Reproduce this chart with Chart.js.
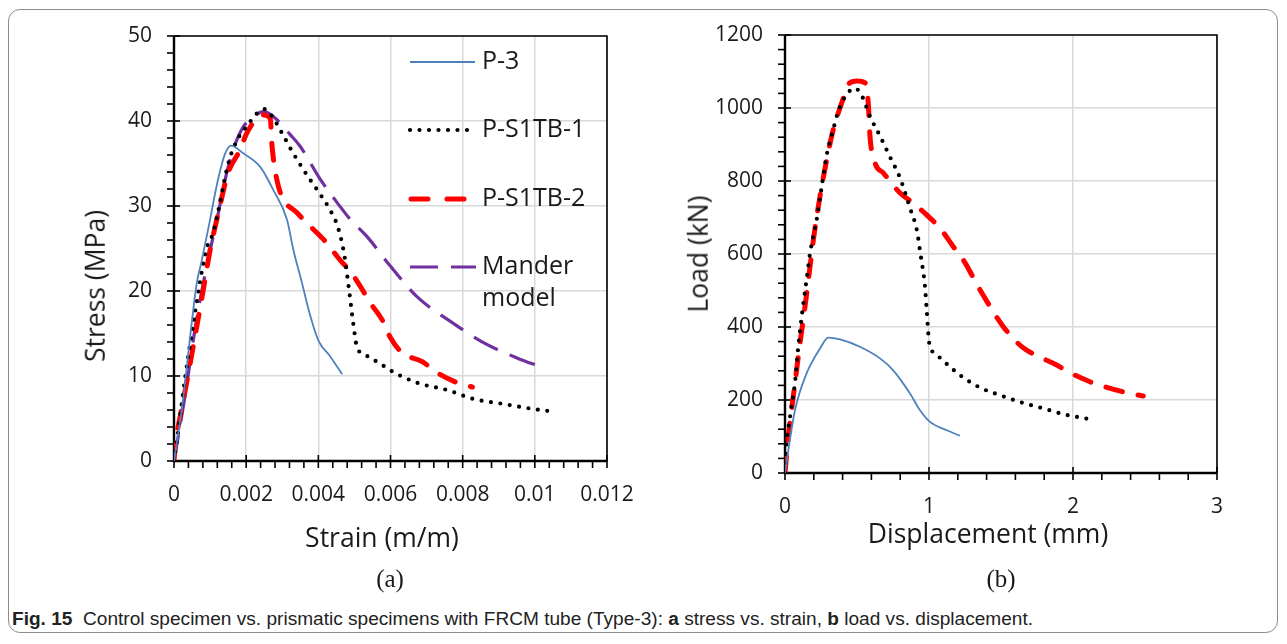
<!DOCTYPE html>
<html>
<head>
<meta charset="utf-8">
<script src="https://cdn.jsdelivr.net/npm/chart.js@4.4.1/dist/chart.umd.min.js"></script>
<style>
  html,body{margin:0;padding:0;background:#fff;}
  #wrap{position:relative;width:1287px;height:644px;overflow:hidden;font-family:'Open Sans','Noto Sans',sans-serif;color:#1a1a1a;}
  #frameBox{position:absolute;left:8px;top:9px;width:1270px;height:624px;border:1px solid #8c8c8c;border-radius:12px;box-sizing:border-box;}
  canvas{position:absolute;}
  .t{position:absolute;white-space:nowrap;transform:translate(-50%,-50%);font-size:26.5px;line-height:1;}
  .rot{transform:translate(-50%,-50%) rotate(-90deg);}
  .sub{position:absolute;white-space:nowrap;transform:translate(-50%,-50%);font-family:'Liberation Serif','DejaVu Serif',serif;font-size:25px;line-height:1;}
  #cap{position:absolute;left:12px;top:620px;white-space:nowrap;transform-origin:0 50%;font-family:'Liberation Sans Narrow','Liberation Sans','Noto Sans',sans-serif;font-size:17.5px;line-height:1;color:#222;}
</style>
</head>
<body>
<div id="wrap">
  <div id="frameBox"></div>
  <canvas id="cA" width="700" height="560" style="left:0;top:0;width:700px;height:560px"></canvas>
  <canvas id="cB" width="647" height="560" style="left:640px;top:0;width:647px;height:560px"></canvas>
  <div class="t rot" style="left:95px;top:286px">Stress (MPa)</div>
  <div class="t" style="left:382px;top:537px">Strain (m/m)</div>
  <div class="t rot" style="left:698px;top:254px">Load (kN)</div>
  <div class="t" style="left:988px;top:533px">Displacement (mm)</div>
  <div class="sub" style="left:390px;top:578px">(a)</div>
  <div class="sub" style="left:1001px;top:578px">(b)</div>
  <div id="cap"><b>Fig. 15</b>&nbsp; Control specimen vs. prismatic specimens with FRCM tube (Type-3): <b>a</b> stress vs. strain, <b>b</b> load vs. displacement.</div>
</div>
<script>
// ---------------- DATA ----------------
const seriesNames = ['P-3', 'P-S1TB-1', 'P-S1TB-2', 'Mander model'];

// (a) stress (MPa) vs strain (m/m)
const strainP3 = [0,0.00025,0.00049,0.00063,0.00077,0.001,0.00114,0.00128,0.00142,0.00158,0.00192,0.00239,0.00275,0.00313,0.00331,0.00355,0.00373,0.0040,0.00433,0.00466];
const stressP3 = [0,7.2,16.2,20.9,23.6,28.4,31.5,34.2,36.2,37.1,36.2,34.6,31.9,28.4,24.8,20.9,17.8,14.2,12.3,10.2];

const strainT1 = [0,0.00006,0.0003,0.00058,0.00089,0.00108,0.00125,0.00142,0.00156,0.00177,0.00202,0.0023,0.0025,0.00271,0.00299,0.00325,0.00369,0.004,0.00433,0.00455,0.00473,0.00484,0.00498,0.00507,0.00526,0.00577,0.00598,0.00674,0.00757,0.0083,0.00914,0.00998,0.01053];
const stressT1 = [0,1.7,9.5,17.4,24.8,26.8,29.9,33.5,35.8,37.9,39.4,40.9,41.4,40.6,38.6,36.6,33.6,31.7,29.5,27.4,24.0,20.5,15.8,13.4,12.6,11.3,10.7,9.2,8.35,7.3,6.7,6.1,5.8];

const strainT2 = [0,0.00002,0.00017,0.00035,0.00058,0.00081,0.001,0.00123,0.0015,0.00183,0.00202,0.00234,0.00248,0.00267,0.00271,0.00276,0.00285,0.00299,0.00341,0.00373,0.0042,0.00461,0.00489,0.00517,0.00544,0.00577,0.006,0.00633,0.00688,0.00725,0.0078,0.00827];
const stressT2 = [0,1.3,5.2,9.2,14.6,20.1,24.8,29.2,33.9,36.6,38.6,40.5,40.7,40.3,37.4,35.4,33.1,31.1,29.2,27.8,25.8,23.6,22.3,20.5,18.6,16.6,14.5,12.7,11.7,10.5,9.3,8.7];

const strainMd = [0,0.0003,0.0006,0.0009,0.00119,0.00146,0.00169,0.00192,0.0022,0.00248,0.00276,0.00322,0.0035,0.00406,0.00452,0.00489,0.00535,0.006,0.00674,0.00767,0.00859,0.00952,0.01017];
const stressMd = [0,7.5,16.0,22.8,28.4,33.9,37.2,39.3,40.5,41.1,40.5,38.4,37.0,33.1,30.4,28.4,26.4,22.9,19.3,16.4,13.9,12.1,11.06];

// (b) load (kN) vs displacement (mm)
const dispP3 = [0,0.023,0.069,0.15,0.243,0.30,0.382,0.52,0.66,0.75,0.868,0.9375,1.007,1.123,1.215];
const loadP3 = [0,62,172,273,341,371,366,346,314,282,218,172,140,117,102];

const dispT1 = [0,0.007,0.035,0.069,0.09,0.116,0.162,0.174,0.22,0.255,0.29,0.335,0.37,0.428,0.486,0.533,0.59,0.66,0.729,0.799,0.868,0.915,0.94,0.972,0.984,1.002,1.042,1.157,1.215,1.354,1.493,1.644,1.794,1.944,2.095];
const loadT1 = [0,62,154,246,337,428,566,602,694,785,872,941,991,1037,1054,1034,977,923,866,808,726,666,602,511,447,355,328,287,268,234,213,193,177,160,149];

const dispT2 = [0,0.023,0.069,0.104,0.139,0.174,0.197,0.243,0.29,0.335,0.394,0.44,0.498,0.556,0.578,0.59,0.625,0.683,0.799,0.89,0.995,1.076,1.169,1.238,1.354,1.516,1.644,1.725,1.887,1.968,2.118,2.222,2.373,2.488];
const loadT2 = [0,99,245,355,456,566,639,758,859,941,1014,1065,1074,1069,1014,923,850,822,767,740,703,671,620,584,502,401,346,326,296,277,250,236,220,211];

// tick labels
const strainTicks = ['0','0.002','0.004','0.006','0.008','0.01','0.012'];
const stressTicks = ['0','10','20','30','40','50'];
const dispTicks = ['0','1','2','3'];
const loadTicks = ['0','200','400','600','800','1000','1200'];

// ---------------- STYLES ----------------
const FONT = "'Open Sans','Noto Sans',sans-serif";
Chart.defaults.font.family = FONT;
Chart.defaults.color = '#1a1a1a';

const styles = [
  {borderColor:'#4f81bd', borderWidth:1.8, borderDash:[], borderCapStyle:'butt'},
  {borderColor:'#000000', borderWidth:4.2, borderDash:[0,9.5], borderCapStyle:'round'},
  {borderColor:'#ff0000', borderWidth:5, borderDash:[17,16], borderCapStyle:'round'},
  {borderColor:'#7030a0', borderWidth:3.2, borderDash:[27,13], borderCapStyle:'butt'}
];

function pts(xs, ys){ return xs.map((x,i)=>({x:x, y:ys[i]})); }
function ds(i, xs, ys){
  return Object.assign({label:seriesNames[i], data:pts(xs,ys), showLine:true, pointRadius:0, pointHoverRadius:0,
    fill:false, cubicInterpolationMode:'monotone', tension:0.3}, styles[i]);
}

const frame = {
  id:'frame',
  beforeDatasetsDraw(chart, args, o){
    const {ctx, chartArea:a, scales:{x,y}} = chart;
    ctx.save();
    ctx.setLineDash([]);
    ctx.strokeStyle = '#000';
    ctx.lineWidth = 1.6;
    ctx.beginPath(); ctx.moveTo(a.left,a.top); ctx.lineTo(a.right,a.top); ctx.lineTo(a.right,a.bottom); ctx.stroke();
    ctx.lineWidth = 2.4;
    ctx.beginPath(); ctx.moveTo(a.left,a.top); ctx.lineTo(a.left,a.bottom); ctx.lineTo(a.right,a.bottom); ctx.stroke();
    ctx.lineWidth = 1.6;
    const nx = Math.round((x.max - x.min)/o.xMinor);
    for(let k=0;k<=nx;k++){
      const v = x.min + k*o.xMinor;
      const px = x.getPixelForValue(v);
      const major = (k % o.xEvery) === 0;
      ctx.beginPath();
      ctx.moveTo(px, a.bottom + 7);
      ctx.lineTo(px, major ? a.bottom - 6 : a.bottom);
      ctx.stroke();
    }
    const ny = Math.round((y.max - y.min)/o.yMinor);
    for(let k=0;k<=ny;k++){
      const v = y.min + k*o.yMinor;
      const py = y.getPixelForValue(v);
      const major = (k % o.yEvery) === 0;
      ctx.beginPath();
      ctx.moveTo(a.left - 7, py);
      ctx.lineTo(major ? a.left + 6 : a.left, py);
      ctx.stroke();
    }
    ctx.restore();
  },
  afterDraw(chart, args, o){
    if(!o.legend) return;
    const {ctx} = chart;
    ctx.save();
    const rows = [62, 130, 199, 267];
    ctx.font = "25px " + FONT;
    ctx.fillStyle = '#1a1a1a';
    ctx.textBaseline = 'middle';
    chart.data.datasets.forEach((d,i)=>{
      const yy = rows[i];
      ctx.beginPath();
      ctx.strokeStyle = d.borderColor;
      ctx.lineWidth = d.borderWidth;
      ctx.lineCap = d.borderCapStyle;
      ctx.setLineDash(d.borderDash);
      if(i===1){ ctx.moveTo(410,yy); ctx.lineTo(474,yy); }
      else if(i===2){ ctx.setLineDash([17,19]); ctx.moveTo(411,yy); ctx.lineTo(468,yy); }
      else if(i===3){ ctx.setLineDash([28,13]); ctx.moveTo(410,yy); ctx.lineTo(476,yy); }
      else { ctx.moveTo(410,yy); ctx.lineTo(475,yy); }
      ctx.stroke();
      ctx.setLineDash([]);
      if(i===3){
        ctx.fillText('Mander', 482, yy);
        ctx.fillText('model', 482, yy + 32);
      } else {
        ctx.fillText(d.label, 482, yy);
      }
    });
    ctx.restore();
  }
};

function makeChart(id, datasets, cfg){
  const canvas = document.getElementById(id);
  return new Chart(canvas, {
    type:'scatter',
    data:{datasets:datasets},
    plugins:[frame],
    options:{
      responsive:false, animation:false, maintainAspectRatio:false,
      devicePixelRatio:1,
      layout:{padding:{left:0, top:cfg.top, right:canvas.width - cfg.right, bottom:0}},
      plugins:{legend:{display:false}, tooltip:{enabled:false},
        frame:{xMinor:cfg.xMinor, xEvery:cfg.xEvery, yMinor:cfg.yMinor, yEvery:cfg.yEvery, legend:cfg.legend}},
      scales:{
        x:{type:'linear', min:cfg.xMin, max:cfg.xMax,
          afterFit:(s)=>{ s.height = canvas.height - cfg.bottom; },
          afterBuildTicks:(s)=>{ s.ticks = cfg.xLabels.map((l,i)=>({value: cfg.xMin + i*cfg.xStep})); },
          ticks:{stepSize:cfg.xStep, padding:21, font:{size:21}, color:'#1a1a1a', maxRotation:0, autoSkip:false,
            callback:(v,i)=>cfg.xLabels[i]},
          grid:{color:'#d9d9d9', lineWidth:1.5, drawTicks:false},
          border:{display:false}
        },
        y:{type:'linear', min:cfg.yMin, max:cfg.yMax,
          afterFit:(s)=>{ s.width = cfg.left; },
          afterBuildTicks:(s)=>{ s.ticks = cfg.yLabels.map((l,i)=>({value: cfg.yMin + i*cfg.yStep})); },
          ticks:{stepSize:cfg.yStep, padding:22, font:{size:21}, color:'#1a1a1a', autoSkip:false,
            callback:(v,i)=>cfg.yLabels[i]},
          grid:{color:'#d9d9d9', lineWidth:1.5, drawTicks:false},
          border:{display:false}
        }
      }
    }
  });
}

makeChart('cA', [ds(0,strainP3,stressP3), ds(1,strainT1,stressT1), ds(2,strainT2,stressT2), ds(3,strainMd,stressMd)], {
  left:174, top:36, right:607, bottom:461,
  xMin:0, xMax:0.012, xStep:0.002, xMinor:0.0004, xEvery:5, xLabels:strainTicks,
  yMin:0, yMax:50, yStep:10, yMinor:2, yEvery:5, yLabels:stressTicks, legend:true
});

makeChart('cB', [ds(0,dispP3,loadP3), ds(1,dispT1,loadT1), ds(2,dispT2,loadT2)], {
  left:145, top:35, right:577, bottom:473,
  xMin:0, xMax:3, xStep:1, xMinor:0.2, xEvery:5, xLabels:dispTicks,
  yMin:0, yMax:1200, yStep:200, yMinor:40, yEvery:5, yLabels:loadTicks, legend:false
});

// fit caption width to the reference span
const cap = document.getElementById('cap');
const w = cap.getBoundingClientRect().width;
cap.style.transform = 'translateY(-50%) scaleX(' + (1021 / w) + ')';
</script>
</body>
</html>
